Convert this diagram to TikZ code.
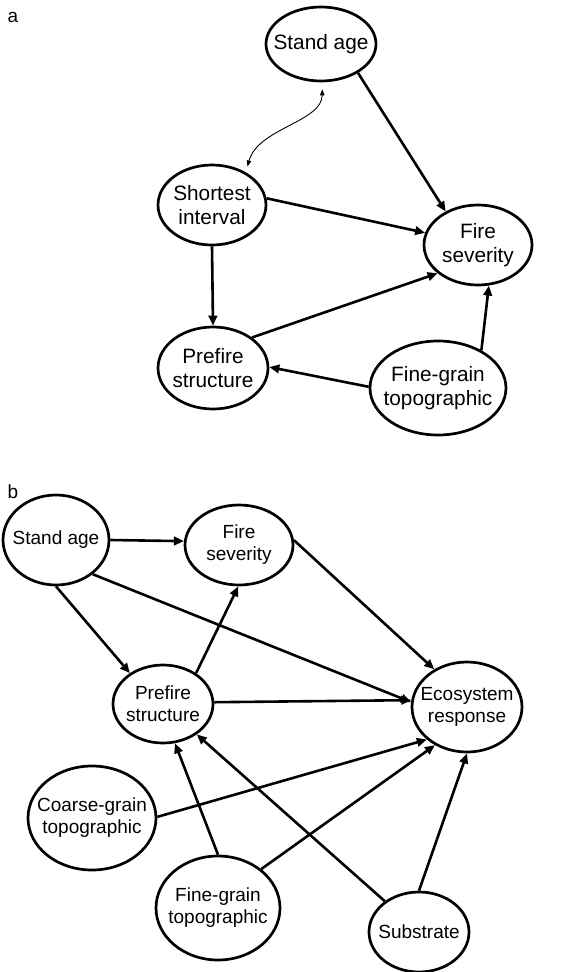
\documentclass[tikz,border=0pt]{standalone}
\usepackage{fontspec}
\setmainfont{Liberation Sans}
\usetikzlibrary{shapes.geometric,arrows.meta}
\begin{document}
\begin{tikzpicture}[x=1pt,y=-1pt,
  bub/.style={draw, line width=2.7pt, ellipse, inner sep=0pt},
  atxt/.style={align=center, font=\fontsize{20.8}{24}\selectfont, inner sep=0pt},
  btxt/.style={align=center, font=\fontsize{19}{22}\selectfont, inner sep=0pt},
  link/.style={line width=2.6pt, -{Triangle[length=10pt,width=8.5pt]}},
  twoway/.style={line width=0.9pt, {Triangle[length=6pt,width=4.5pt]}-{Triangle[length=6pt,width=4.5pt]}},
  panel/.style={font=\fontsize{19}{22}\selectfont, inner sep=0pt}]
\useasboundingbox (0,0) rectangle (577,972);

% ---------------- panel a ----------------
\node[panel] (pa) at (13,17) {a};
\node[bub, minimum width=110pt, minimum height=74pt, label={[atxt]center:Stand age}] (asa) at (321,44) {};
\node[bub, minimum width=108pt, minimum height=80pt, label={[atxt]center:Shortest\\interval}] (asi) at (212,205) {};
\node[bub, minimum width=108pt, minimum height=80pt, label={[atxt]center:Fire\\severity}] (afs) at (478,245) {};
\node[bub, minimum width=110pt, minimum height=82pt, label={[atxt]center:Prefire\\structure}] (aps) at (213,368) {};
\node[bub, minimum width=136pt, minimum height=94pt, label={[atxt]center:Fine-grain\\topographic}] (afg) at (438,388) {};

\draw[link] (asa.-38) -- (afs.134);
\draw[link] (asi.7) -- (afs.167);
\draw[link] (asi.-90) -- (aps.90);
\draw[link] (aps.38) -- (afs.-145);
\draw[link] (afg.41) -- (afs.-75);
\draw[link] (afg.179) -- (aps.1);
\draw[twoway, shorten <=6pt, shorten >=7pt] (asi.44) .. controls (258,128) and (322,122) .. (asa.-88);

% ---------------- panel b ----------------
\node[panel] (pb) at (13,492) {b};
\node[bub, minimum width=106pt, minimum height=90pt, label={[btxt]center:Stand age}] (bsa) at (56,540) {};
\node[bub, minimum width=108pt, minimum height=80pt, label={[btxt]center:Fire\\severity}] (bfs) at (239,545) {};
\node[bub, minimum width=100pt, minimum height=78pt, label={[btxt]center:Prefire\\structure}] (bps) at (163,704) {};
\node[bub, minimum width=110pt, minimum height=90pt, label={[btxt]center:Ecosystem\\response}] (ber) at (467,707) {};
\node[bub, minimum width=128pt, minimum height=104pt, label={[btxt]center:Coarse-grain\\topographic}] (bcg) at (92,818) {};
\node[bub, minimum width=124pt, minimum height=104pt, label={[btxt]center:Fine-grain\\topographic}] (bfg) at (218,908) {};
\node[bub, minimum width=100pt, minimum height=80pt, label={[btxt]center:Substrate}] (bsu) at (419,932) {};

\draw[link] (bsa.0) -- (bfs.176);
\draw[link] (bsa.-43) -- (ber.175);
\draw[link] (bsa.-90) -- (bps.137);
\draw[link] (bfs.5) -- (ber.131);
\draw[link] (bps.43) -- (bfs.-91);
\draw[link] (bps.2) -- (ber.173);
\draw[link] (bcg.1) -- (ber.-141);
\draw[link] (bfg.90) -- (bps.-73);
\draw[link] (bfg.42) -- (ber.-130);
\draw[link] (bsu.138) -- (bps.-42);
\draw[link] (bsu.90) -- (ber.-90);
\end{tikzpicture}
\end{document}
